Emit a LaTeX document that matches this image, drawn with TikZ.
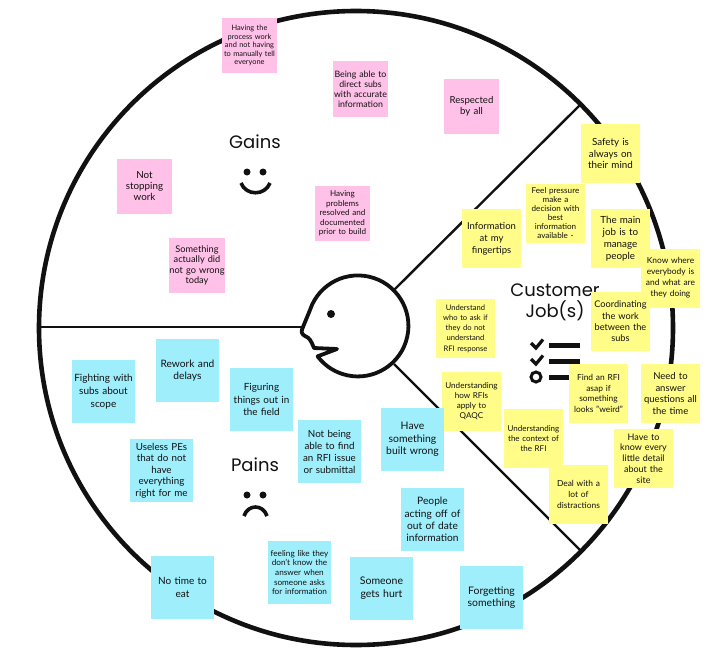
\documentclass[tikz,border=0pt]{standalone}
\usepackage{fontspec}
\setmainfont{Lato}
\newfontfamily\titlefont{Poppins}
\definecolor{notepink}{HTML}{FFC1E8}
\definecolor{noteyellow}{HTML}{FFFC87}
\definecolor{noteblue}{HTML}{9EEEFC}
\definecolor{ink}{HTML}{111111}
\tikzset{
  x=1pt,y=1pt,
  note/.style={inner sep=0pt,align=center,text=ink,anchor=center},
  pinknote/.style={note,fill=notepink,minimum width=55.5pt,minimum height=55.5pt,text width=55.5pt},
  yellownote/.style={note,fill=noteyellow,minimum width=59pt,minimum height=59pt,text width=59pt},
  bluenote/.style={note,fill=noteblue,minimum width=63pt,minimum height=63pt,text width=63pt},
  ft/.style 2 args={font=\fontsize{#1}{#2}\selectfont},
  title/.style={inner sep=0pt,align=center,text=ink,font=\titlefont\fontsize{18}{21}\selectfont},
  rim/.style={draw=ink,line width=4.6pt},
  divider/.style={draw=ink,line width=2.4pt},
  facepart/.style={draw=ink,line width=3.6pt,line cap=round,line join=round},
  dot/.style={fill=ink,circle,inner sep=0pt,minimum size=#1},
  listbar/.style={draw=ink,line width=5pt}
}
\begin{document}
\begin{tikzpicture}
\useasboundingbox[fill=white] (0,0) rectangle (710,-661);
% wheel
\coordinate (wheelc) at (356,-328);
\draw[rim] (wheelc) circle[radius=317pt];
\coordinate (leftend) at (38,-327);
\coordinate (leftface) at (303,-327);
\coordinate (upend) at (580,-105);
\coordinate (upface) at (394,-290);
\coordinate (lowend) at (580,-550);
\coordinate (lowface) at (394,-364);
\draw[divider] (leftend) -- (leftface);
\draw[divider] (upface) -- (upend);
\draw[divider] (lowface) -- (lowend);
% head
\draw[draw=ink,fill=white,line width=3.8pt,line join=round]
  (310,-310) arc[start angle=161.6,end angle=-143,radius=50.5pt]
  -- (337,-349) -- (314,-348) .. controls (311,-341) and (310,-338) .. (305,-336)
  .. controls (301,-334) and (301,-331) .. (303,-327) -- cycle;
\node[dot=8pt] (eye) at (331,-314) {};
% titles and faces
\node[title] (gains) at (255,-142) {Gains};
\node[dot=7pt] (ge1) at (247,-172) {};
\node[dot=7pt] (ge2) at (263,-172) {};
\draw[facepart,line cap=butt] (241,-183) .. controls (246,-196) and (265,-196) .. (270,-183);
\node[title] (pains) at (255,-465) {Pains};
\node[dot=7pt] (pe1) at (247,-495) {};
\node[dot=7pt] (pe2) at (263,-495) {};
\draw[facepart,line cap=butt] (244,-516) .. controls (248,-504) and (263,-504) .. (267,-516);
\node[title] (jobs) at (555,-302.5) {Customer\\Job(s)};
% checklist
\draw[facepart,line cap=butt,line join=miter,line width=3.2pt] (531,-343) -- (536,-348) -- (543,-339.5);
\draw[facepart,line cap=butt,line join=miter,line width=3.2pt] (531,-359) -- (536,-364) -- (543,-355.5);
\draw[draw=ink,line width=3pt] (536,-377) circle[radius=5pt];
\draw[listbar] (549,-345.5) -- (580,-345.5);
\draw[listbar] (549,-361.5) -- (580,-361.5);
\draw[listbar] (549,-377) -- (580,-377);
% gains notes
\node[pinknote,ft={7.4}{8.5}] (g1) at (249.5,-45.5) {Having the\\process work\\and not having\\to manually tell\\everyone};
\node[pinknote,ft={9.8}{11}] (g2) at (144.5,-186.5) {Not\\stopping\\work};
\node[pinknote,ft={9.2}{10.3}] (g3) at (197,-265.5) {Something\\actually did\\not go wrong\\today};
\node[pinknote,ft={8.8}{10}] (g4) at (360.5,-89) {Being able to\\direct subs\\with accurate\\information};
\node[pinknote,ft={9.6}{11.2}] (g5) at (471.5,-106.5) {Respected\\by all};
\node[pinknote,ft={8.1}{9.5}] (g6) at (342.5,-213.5) {Having\\problems\\resolved and\\documented\\prior to build};
% job notes
\node[yellownote,ft={9.8}{11.6}] (j1) at (610.5,-153.5) {Safety is\\always on\\their mind};
\node[yellownote,ft={8.1}{9}] (j2) at (555.5,-213.5) {Feel pressure\\make a\\decision with\\best\\information\\available -};
\node[yellownote,ft={9.5}{12}] (j3) at (491.5,-238.5) {Information\\at my\\fingertips};
\node[yellownote,ft={9.8}{12}] (j4) at (620.5,-238.5) {The main\\job is to\\manage\\people};
\node[yellownote,ft={8.4}{11}] (j5) at (670.5,-278) {Know where\\everybody is\\and what are\\they doing};
\node[yellownote,ft={9.2}{11.3}] (j6) at (620.5,-321.5) {Coordinating\\the work\\between the\\subs};
\node[yellownote,ft={7.6}{10.3}] (j7) at (465.5,-328.5) {Understand\\who to ask if\\they do not\\understand\\RFI response};
\node[yellownote,ft={8.1}{10}] (j8) at (471.5,-401.5) {Understanding\\how RFIs\\apply to\\QAQC};
\node[yellownote,ft={8.4}{10.8}] (j9) at (598.5,-393.5) {Find an RFI\\asap if\\something\\looks "weird"};
\node[yellownote,ft={9.5}{11.8}] (j10) at (670.5,-393.5) {Need to\\answer\\questions all\\the time};
\node[yellownote,ft={8}{9.6}] (j11) at (533.5,-438.5) {Understanding\\the context of\\the RFI};
\node[yellownote,ft={9}{10.8}] (j12) at (643.5,-458.5) {Have to\\know every\\little detail\\about the\\site};
\node[yellownote,ft={8.4}{10.9}] (j13) at (578.5,-494.5) {Deal with a\\lot of\\distractions};
% pain notes
\node[bluenote,ft={10}{12.7}] (p1) at (103.5,-391.5) {Fighting with\\subs about\\scope};
\node[bluenote,ft={10.2}{12.7}] (p2) at (187.5,-370.5) {Rework and\\delays};
\node[bluenote,ft={9.9}{12.2}] (p3) at (261.5,-399.5) {Figuring\\things out in\\the field};
\node[bluenote,ft={9.8}{12}] (p4) at (329.5,-451.5) {Not being\\able to find\\an RFI issue\\or submittal};
\node[bluenote,ft={10.4}{12.7}] (p5) at (412.5,-439.5) {Have\\something\\built wrong};
\node[bluenote,ft={9.8}{11.5}] (p6) at (161.5,-470.5) {Useless PEs\\that do not\\have\\everything\\right for me};
\node[bluenote,ft={10.2}{12.2}] (p7) at (432.5,-519.5) {People\\acting off of\\out of date\\information};
\node[bluenote,ft={8.2}{9.7}] (p8) at (299.5,-572.5) {feeling like they\\don't know the\\answer when\\someone asks\\for information};
\node[bluenote,ft={10}{12.7}] (p9) at (182.5,-587.5) {No time to\\eat};
\node[bluenote,ft={10.5}{12.7}] (p10) at (381.5,-588.5) {Someone\\gets hurt};
\node[bluenote,ft={10.4}{12.7}] (p11) at (491.5,-597.5) {Forgetting\\something};
\end{tikzpicture}
\end{document}
